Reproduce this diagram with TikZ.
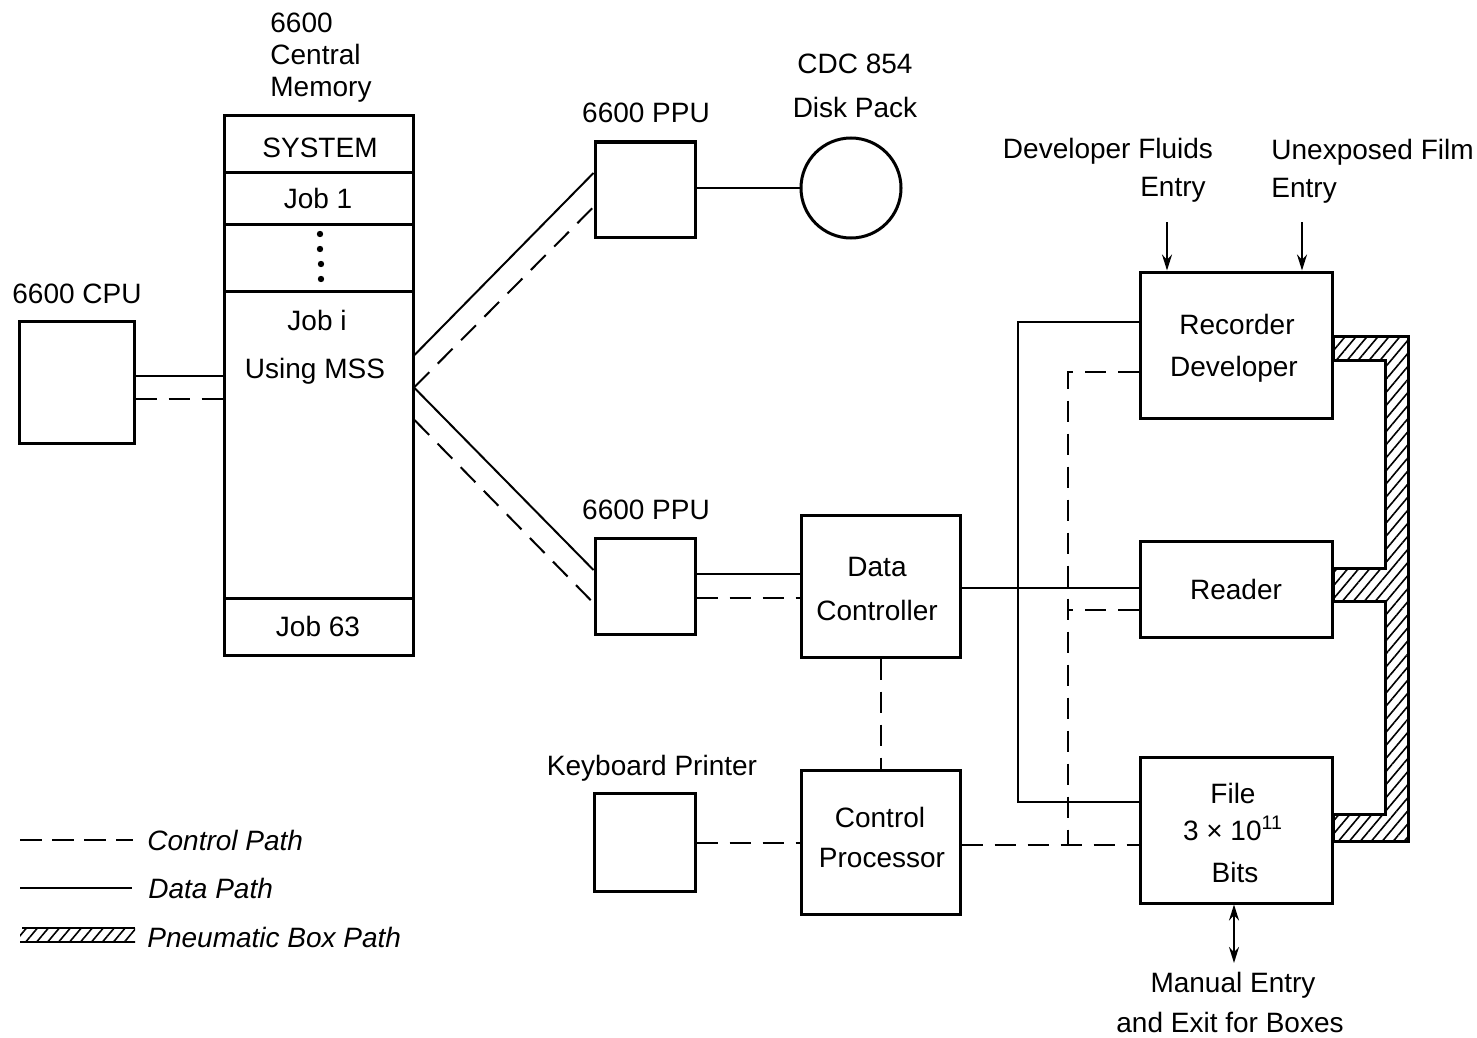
\documentclass[tikz,border=0pt]{standalone}
\usepackage{fontspec}
\setmainfont{Liberation Sans}
\usetikzlibrary{patterns.meta,arrows.meta}
\begin{document}
\begin{tikzpicture}[x=0.5pt,y=-0.5pt,
  font=\fontsize{14}{16}\selectfont,
  box/.style={draw, line width=1.5pt, inner sep=0pt, rectangle},
  data/.style={line width=1pt},
  ctrl/.style={line width=1pt, dash pattern=on 10.5pt off 6pt},
  lbl/.style={inner sep=0pt, anchor=base},
  lblw/.style={inner sep=0pt, anchor=base west},
  hatch/.style={pattern={Lines[angle=50,distance=4.2pt,line width=0.8pt]}},
  tip/.style={-{Stealth[length=8pt,width=5pt]}, line width=1pt},
]
\useasboundingbox (0,0) rectangle (1477,1038);

% ---------- boxes ----------
\node[box, minimum width=57.5pt, minimum height=61pt] (cpu) at (76.5,382) {};
\node[box, minimum width=94.5pt, minimum height=28pt] (sys) at (318.5,144) {};
\node[box, minimum width=94.5pt, minimum height=26pt] (job1) at (318.5,198) {};
\node[box, minimum width=94.5pt, minimum height=33.5pt] (dots) at (318.5,257.5) {};
\node[box, minimum width=94.5pt, minimum height=153.5pt] (jobi) at (318.5,444.5) {};
\node[box, minimum width=94.5pt, minimum height=28.5pt] (job63) at (318.5,626.5) {};
\node[box, minimum width=50pt, minimum height=47.5pt] (ppu1) at (645,189.5) {};
\node[box, minimum width=50pt, minimum height=48pt] (ppu2) at (645,586) {};
\node[draw, line width=1.5pt, circle, inner sep=0pt, minimum size=50pt] (disk) at (851,188) {};
\node[box, minimum width=79.5pt, minimum height=71pt] (dc) at (880.5,586) {};
\node[box, minimum width=79.5pt, minimum height=72pt] (cp) at (880.5,842) {};
\node[box, minimum width=50.5pt, minimum height=49pt] (kp) at (644.5,842) {};
\node[box, minimum width=96pt, minimum height=73pt] (rec) at (1236,345) {};
\node[box, minimum width=96pt, minimum height=48pt] (rdr) at (1236,589) {};
\node[box, minimum width=96pt, minimum height=73pt] (file) at (1236,830) {};

% dots in memory
\fill (320,234) circle (1.6pt);
\fill (320,249) circle (1.6pt);
\fill (321,264) circle (1.6pt);
\fill (321,279) circle (1.6pt);

% ---------- texts ----------
\node[lblw] (t6600) at (270,33) {6600};
\node[lblw] (tcentral) at (270,65) {Central};
\node[lblw] (tmemory) at (270,97) {Memory};
\node[lblw] (tcpu) at (12,303) {6600 CPU};
\node[lbl] (tsys) at (320,157) {SYSTEM};
\node[lbl] (tjob1) at (318,208) {Job 1};
\node[lbl] (tjobi) at (317,330) {Job i};
\node[lbl] (tmss) at (315,378) {Using MSS};
\node[lbl] (tjob63) at (318,636) {Job 63};
\node[lbl] (tppu1) at (646,123) {6600 PPU};
\node[lbl] (tppu2) at (646,519) {6600 PPU};
\node[lbl] (tcdc) at (855,74) {CDC 854};
\node[lbl] (tdisk) at (855,118) {Disk Pack};
\node[lbl] (tdata) at (877,576) {Data};
\node[lbl] (tcontroller) at (877,620) {Controller};
\node[lbl] (tcontrol) at (880,827) {Control};
\node[lbl] (tprocessor) at (882,867) {Processor};
\node[lbl] (tkp) at (652,775) {Keyboard Printer};
\node[lbl] (trecorder) at (1237,334) {Recorder};
\node[lbl] (tdeveloper) at (1234,376) {Developer};
\node[lbl] (treader) at (1236,599) {Reader};
\node[lbl] (tfile) at (1233,803) {File};
\node[lbl] (tsize) at (1233,840) {3 × 10\textsuperscript{11}};
\node[lbl] (tbits) at (1235,882) {Bits};
\node[lbl] (tfluids) at (1108,158) {Developer Fluids};
\node[inner sep=0pt, anchor=base east] (tentry1) at (1206,196) {Entry};
\node[lblw] (tfilm) at (1271,160) {Unexposed Film};
\node[lblw] (tentry2) at (1271,198) {Entry};
\node[lbl] (tmanual) at (1233,992) {Manual Entry};
\node[lbl] (texit) at (1230,1032) {and Exit for Boxes};

% ---------- connectors ----------
\draw[data] (cpu.east |- 0,376) -- (jobi.west |- 0,376);
\draw[ctrl] (cpu.east |- 0,399) -- (jobi.west |- 0,399);

\draw[data] (jobi.east |- 0,355) -- (ppu1.west |- 0,173);
\draw[ctrl] (jobi.east |- 0,387) -- (ppu1.west |- 0,207);
\draw[data] (jobi.east |- 0,388) -- (ppu2.west |- 0,570);
\draw[ctrl] (jobi.east |- 0,420) -- (ppu2.west |- 0,603);

\draw[data] (ppu1.east |- disk.west) -- (disk.west);

\draw[data] (ppu2.east |- 0,574) -- (dc.west |- 0,574);
\draw[ctrl] (ppu2.east |- 0,598) -- (dc.west |- 0,598);

\draw[ctrl] (dc.south) -- (cp.north);
\draw[ctrl] (kp.east |- 0,843) -- (cp.west |- 0,843);

\coordinate (s1) at (1018,322);
\coordinate (s2) at (1018,802);
\draw[data] (dc.east |- 0,588) -- (rdr.west |- 0,588);
\draw[data] (rec.west |- s1) -- (s1) -- (s2) -- (file.west |- s2);

\coordinate (d1) at (1068,372);
\coordinate (d2) at (1068,845);
\coordinate (d3) at (1068,610);
\draw[ctrl] (rec.west |- d1) -- (d1) -- (d2);
\draw[ctrl] (cp.east |- d2) -- (file.west |- d2);
\draw[ctrl] (rdr.west |- d3) -- (d3);

\coordinate (fl) at (1167,222);
\coordinate (fm) at (1302,222);
\draw[tip] (fl) -- (rec.north -| fl);
\draw[tip] (fm) -- (rec.north -| fm);

\coordinate (me) at (1234,963);
\draw[{Stealth[length=8pt,width=5pt]}-{Stealth[length=8pt,width=5pt]}, line width=1pt] (file.south -| me) -- (me);

% ---------- pneumatic path ----------
\draw[hatch, line width=1.5pt]
  (1333,336) -- (1408,336) -- (1408,841) -- (1333,841) -- (1333,814)
  -- (1385,814) -- (1385,601) -- (1333,601) -- (1333,568) -- (1385,568)
  -- (1385,360) -- (1333,360) -- cycle;

% ---------- legend ----------
\coordinate (lc1) at (20,840);
\coordinate (lc2) at (133,840);
\coordinate (ld1) at (20,888);
\coordinate (ld2) at (132,888);
\draw[line width=1pt, dash pattern=on 11pt off 5pt] (lc1) -- (lc2);
\draw[data] (ld1) -- (ld2);
\fill[hatch] (20,928) rectangle (135,942);
\draw[line width=1pt] (22,928) -- (135,928);
\draw[line width=1pt] (20,942) -- (135,942);
\node[lblw, font=\fontsize{14}{16}\selectfont\itshape] (lgc) at (147,850) {Control Path};
\node[lblw, font=\fontsize{14}{16}\selectfont\itshape] (lgd) at (148,898) {Data Path};
\node[lblw, font=\fontsize{14}{16}\selectfont\itshape] (lgp) at (147,947) {Pneumatic Box Path};
\end{tikzpicture}
\end{document}
